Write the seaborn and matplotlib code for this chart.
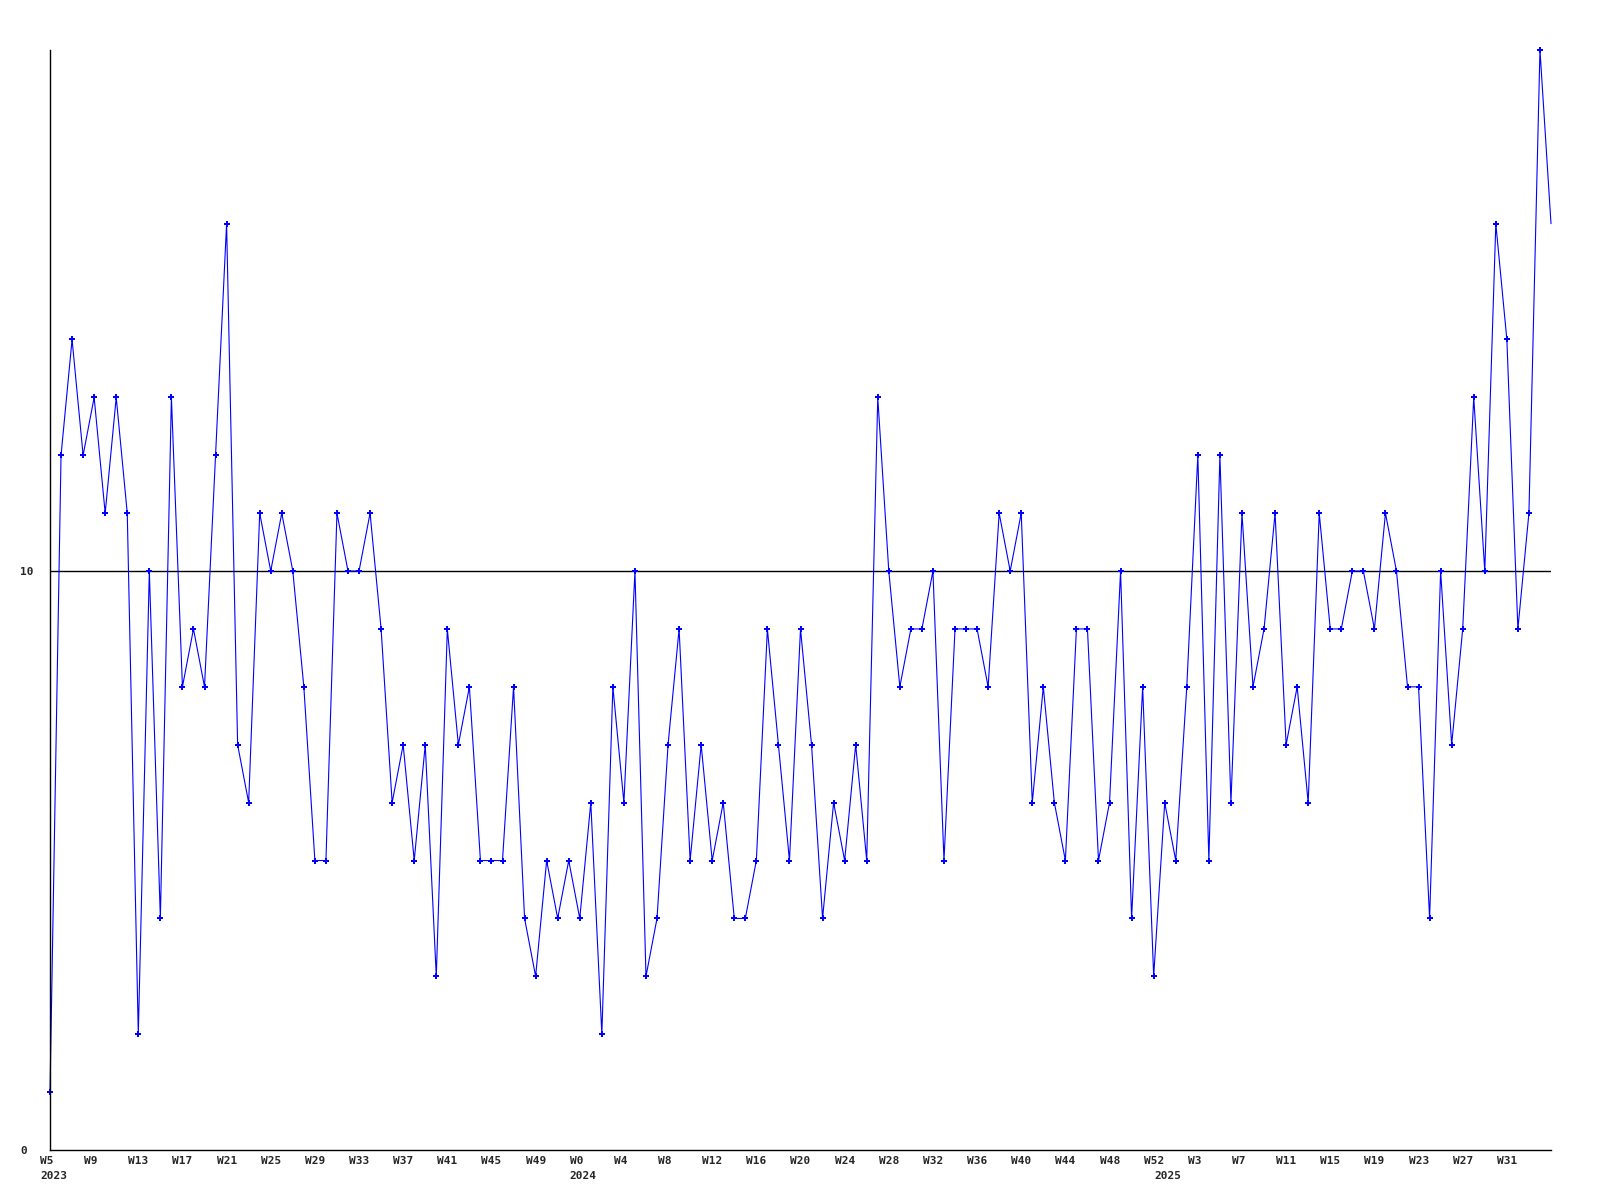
import pandas as pd
import seaborn as sns
import matplotlib.pyplot as plt
from matplotlib.transforms import ScaledTranslation

# weekly counts, 2023 W5 .. 2025 W35
counts_2023 = [1, 12, 14, 12, 13, 11, 13, 11, 2, 10, 4, 13, 8, 9, 8, 12, 16, 7, 6, 11,
               10, 11, 10, 8, 5, 5, 11, 10, 10, 11, 9, 6, 7, 5, 7, 3, 9, 7, 8, 5,
               5, 5, 8, 4, 3, 5, 4, 5]
counts_2024 = [4, 6, 2, 8, 6, 10, 3, 4, 7, 9, 5, 7, 5, 6, 4, 4, 5, 9, 7, 5,
               9, 7, 4, 6, 5, 7, 5, 13, 10, 8, 9, 9, 10, 5, 9, 9, 9, 8, 11, 10,
               11, 6, 8, 6, 5, 9, 9, 5, 6, 10, 4, 8, 3]
counts_2025 = [6, 5, 8, 12, 5, 12, 6, 11, 8, 9, 11, 7, 8, 6, 11, 9, 9, 10, 10, 9,
               11, 10, 8, 8, 4, 10, 7, 9, 13, 10, 16, 14, 9, 11, 19, 16]

week_labels = ["W5", "W9", "W13", "W17", "W21", "W25", "W29", "W33", "W37", "W41",
               "W45", "W49", "W0", "W4", "W8", "W12", "W16", "W20", "W24", "W28",
               "W32", "W36", "W40", "W44", "W48", "W52", "W3", "W7", "W11", "W15",
               "W19", "W23", "W27", "W31"]
years = ["2023", "2024", "2025"]
y_ticks = [0, 10]

values = counts_2023 + counts_2024 + counts_2025
df = pd.DataFrame({"week": range(len(values)), "count": values})
# first week of each year
year_pos = [0, len(counts_2023), len(counts_2023) + len(counts_2024)]

sns.set_style("white")
plt.rcParams["font.family"] = ["DejaVu Sans Mono"]

fig = plt.figure(figsize=(16, 12), dpi=100)
ax = fig.add_axes([50 / 1600, 1 - 1150 / 1200, 1501 / 1600, 1100 / 1200])

sns.lineplot(data=df, x="week", y="count", ax=ax, color="#0000ff", linewidth=0.8,
             marker="P", markersize=5, markeredgewidth=0, clip_on=False,
             markevery=list(range(len(df) - 1)))

ax.axhline(10, color="black", linewidth=1.0, zorder=0)

ax.set_xlim(0, len(values) - 1)
ax.set_ylim(0, 19)
ax.xaxis.remove_overlapping_locs = False
ax.set_xticks(range(0, 4 * len(week_labels), 4))
ax.set_xticklabels(week_labels, fontsize=8, fontweight="bold")
ax.set_xticks(year_pos, minor=True)
ax.set_xticklabels(years, minor=True, fontsize=8, fontweight="bold")
ax.set_yticks(y_ticks)
ax.set_yticklabels([str(v) for v in y_ticks], fontsize=8, fontweight="bold")
ax.tick_params(axis="x", which="major", length=0, pad=4)
ax.tick_params(axis="x", which="minor", length=0, pad=15)
ax.tick_params(axis="y", length=0, pad=21.6)
ax.set_xlabel("")
ax.set_ylabel("")

for side in ["top", "right"]:
    ax.spines[side].set_visible(False)
for side in ["left", "bottom"]:
    ax.spines[side].set_color("black")
    ax.spines[side].set_linewidth(1.0)

shift = ScaledTranslation(-10 / 100, 0, fig.dpi_scale_trans)
for lab in ax.get_xticklabels() + ax.get_xticklabels(minor=True):
    lab.set_horizontalalignment("left")
    lab.set_transform(lab.get_transform() + shift)
for lab in ax.get_yticklabels():
    lab.set_horizontalalignment("left")

fig.savefig("out.png", dpi=100, facecolor="white")
